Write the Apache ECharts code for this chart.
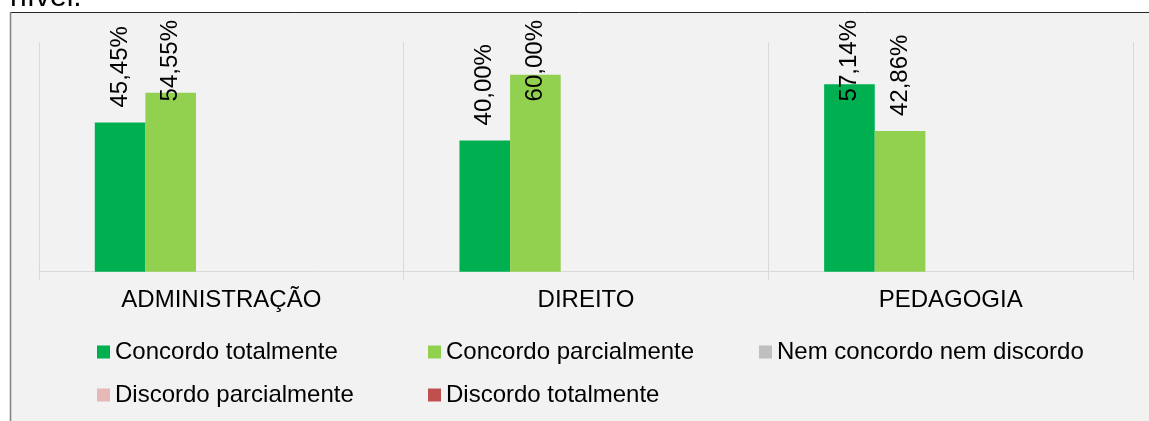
<!DOCTYPE html>
<html>
<head>
<meta charset="utf-8">
<script src="https://cdn.jsdelivr.net/npm/echarts@6/dist/echarts.min.js"></script>
<style>
  html, body { margin: 0; padding: 0; background: #fff; }
  #chart { width: 1149px; height: 421px; }
</style>
</head>
<body>
<div id="chart"></div>
<script>
const categories = ['ADMINISTRAÇÃO', 'DIREITO', 'PEDAGOGIA'];
const seriesNames = ['Concordo totalmente', 'Concordo parcialmente', 'Nem concordo nem discordo', 'Discordo parcialmente', 'Discordo totalmente'];
const concordoTotal = [45.45, 40.00, 57.14];
const concordoParcial = [54.55, 60.00, 42.86];
const nemConcordo = [0, 0, 0];
const discordoParcial = [0, 0, 0];
const discordoTotal = [0, 0, 0];
const colors = ['#00B050', '#92D050', '#BFBFBF', '#E6B9B8', '#C0504D'];

const font = "'Liberation Sans', Arial, sans-serif";
const values = [concordoTotal, concordoParcial, nemConcordo, discordoParcial, discordoTotal];

let myChart = echarts.init(document.getElementById('chart'));

const series = values.map(function (data, i) {
  return {
    name: seriesNames[i],
    type: 'bar',
    data: data,
    barGap: '0%',
    barCategoryGap: '30.6%',
    itemStyle: { color: colors[i] },
    label: {
      show: i < 2,
      position: 'top',
      distance: 15,
      rotate: 90,
      align: 'left',
      verticalAlign: 'middle',
      fontFamily: font,
      fontSize: 24,
      color: '#000',
      formatter: function (p) {
        return p.value.toFixed(2).replace('.', ',') + '%';
      }
    },
    // Excel pushes labels down when they would leave the plot
    labelLayout: function (params) {
      const r = params.labelRect;
      if (r.y < 20) {
        return { y: 20 + r.height };
      }
    },
    emphasis: { disabled: true }
  };
});

const legendBase = {
  left: 97,
  padding: 0,
  itemWidth: 13,
  itemHeight: 13,
  itemGap: 0,
  icon: 'rect',
  selectedMode: false,
  textStyle: { fontFamily: font, fontSize: 24, lineHeight: 24, width: 313, color: '#000' }
};

myChart.setOption({
  backgroundColor: '#fff',
  animation: false,
  color: colors,
  graphic: [
    {
      type: 'rect', z: -10, silent: true,
      shape: { x: 10, y: 12, width: 1200, height: 420 },
      style: { fill: '#f2f2f2' }
    },
    {
      type: 'line', silent: true,
      shape: { x1: 10, y1: 12.5, x2: 1149, y2: 12.5 },
      style: { stroke: '#262626', lineWidth: 1 }
    },
    {
      type: 'line', silent: true,
      shape: { x1: 10.5, y1: 12, x2: 10.5, y2: 421 },
      style: { stroke: '#808080', lineWidth: 1.5 }
    },
    {
      type: 'text', silent: true,
      style: { text: 'nível.', x: 10, y: 13, verticalAlign: 'bottom', font: '30px ' + font, fill: '#000' }
    }
  ],
  grid: { left: 39, right: 16, top: 42, bottom: 149.3, containLabel: false },
  legend: [
    Object.assign({}, legendBase, { top: 340, data: seriesNames.slice(0, 3) }),
    Object.assign({}, legendBase, { top: 383, data: seriesNames.slice(3) })
  ],
  xAxis: {
    type: 'category',
    data: categories,
    axisLine: { lineStyle: { color: '#d9d9d9', width: 1 } },
    axisTick: { show: true, length: 8, lineStyle: { color: '#d9d9d9' } },
    splitLine: { show: true, lineStyle: { color: '#d9d9d9', width: 1 } },
    axisLabel: { margin: 17, fontFamily: font, fontSize: 24, lineHeight: 24, color: '#000' }
  },
  yAxis: {
    type: 'value',
    min: 0,
    max: 70,
    show: false,
    splitLine: { show: false }
  },
  series: series
});
</script>
</body>
</html>
